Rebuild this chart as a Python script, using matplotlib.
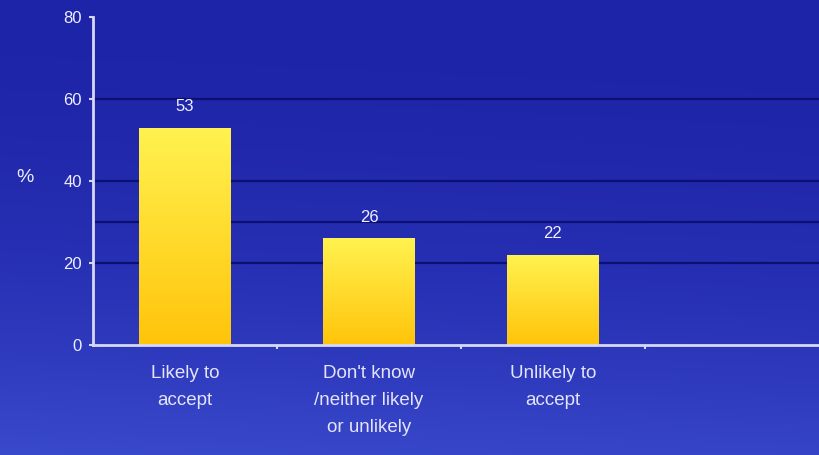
import numpy as np
import matplotlib
matplotlib.use("Agg")
import matplotlib.pyplot as plt
from matplotlib.patches import Rectangle

categories = ["Likely to\naccept", "Don't know\n/neither likely\nor unlikely", "Unlikely to\naccept"]
values = [53, 26, 22]
y_ticks = [0, 20, 40, 60, 80]
grid_levels = [20, 30, 40, 60]

plt.rcParams['font.family'] = ['Liberation Sans', 'DejaVu Sans']

fig = plt.figure(figsize=(8.2, 4.55), dpi=100)

# blue backdrop, slightly lighter towards the bottom
bg = fig.add_axes([0, 0, 1, 1], zorder=0)
bg.set_axis_off()
h, w = 200, 400
yy, xx = np.mgrid[0:1:h * 1j, 0:1:w * 1j]
t = np.clip(0.85 * yy ** 2.2 + 0.15 * (1 - xx) * yy, 0, 1)
top = np.array([30, 36, 168]) / 255
bot = np.array([58, 74, 204]) / 255
img = top[None, None, :] * (1 - t[..., None]) + bot[None, None, :] * t[..., None]
bg.imshow(img, aspect='auto', extent=[0, 1, 0, 1], origin='upper')
bg.set_xlim(0, 1)
bg.set_ylim(0, 1)

ax = fig.add_axes([93 / 820, 1 - 345 / 455, 1 - 93 / 820, (345 - 17) / 455], zorder=1)
ax.patch.set_alpha(0)
n_slots = (820 - 93) / 184

for g in grid_levels:
    ax.axhline(g, color='#0b1172', lw=1.6, zorder=1)

# bars with a vertical yellow gradient
grad = np.linspace(0, 1, 256)[:, None]
c_top = np.array([255, 242, 80]) / 255
c_bot = np.array([255, 196, 10]) / 255
bar_img = c_top[None, None, :] * (1 - grad[..., None]) + c_bot[None, None, :] * grad[..., None]
bar_w = 0.5
xs = np.arange(len(values)) + 0.5
for x, v in zip(xs, values):
    rect = Rectangle((x - bar_w / 2, 0), bar_w, v, facecolor='none', edgecolor='none', zorder=2)
    ax.add_patch(rect)
    im = ax.imshow(bar_img, aspect='auto', extent=[x - bar_w / 2, x + bar_w / 2, 0, v],
                   origin='upper', zorder=2)
    im.set_clip_path(rect)
    ax.text(x, v + 3.3, f"{v}", ha='center', va='bottom', color='#f0f0ff', fontsize=12)
ax.set_xlim(0, n_slots)
ax.set_ylim(0, 80)

for s in ['top', 'right']:
    ax.spines[s].set_visible(False)
for s in ['left', 'bottom']:
    ax.spines[s].set_color('#d8d8f4')
    ax.spines[s].set_linewidth(2)
    ax.spines[s].set_zorder(3)

ax.set_yticks(y_ticks)
ax.set_yticklabels([str(t) for t in y_ticks], color='#eeeeff', fontsize=12)
ax.tick_params(axis='y', length=3, width=1.5, color='#d8d8f4', pad=5)

ax.set_xticks([1, 2, 3])
ax.set_xticklabels([])
ax.tick_params(axis='x', length=3, width=1.5, color='#d8d8f4', direction='out')
for x, c in zip(xs, categories):
    ax.text(x, -4.8, c, ha='center', va='top', color='#e4e4fa', fontsize=13.5,
            linespacing=1.78)

fig.text(25 / 820, 1 - 178 / 455, "%", ha='center', va='center', color='#eeeeff', fontsize=14)

fig.savefig("out.png", dpi=100)
